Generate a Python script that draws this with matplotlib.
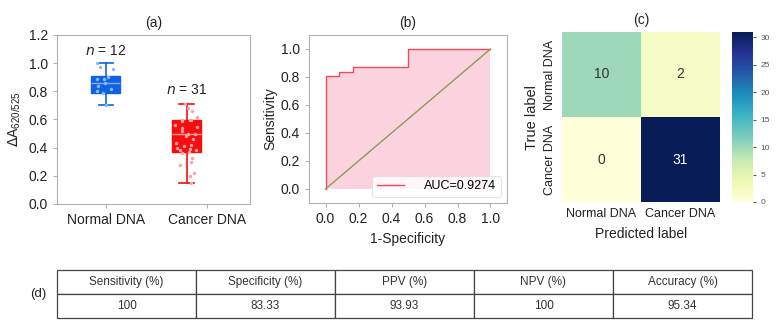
import numpy as np
import matplotlib
matplotlib.use("Agg")
import matplotlib.pyplot as plt
from matplotlib.colors import Normalize

plt.rcParams['font.family'] = ['Liberation Sans', 'DejaVu Sans']

# ---------------- data ----------------
groups = ["Normal DNA", "Cancer DNA"]
normal_vals = [1.00, 0.97, 0.96, 0.90, 0.89, 0.89, 0.86, 0.84, 0.82, 0.80, 0.79, 0.70]
cancer_vals = [0.71, 0.68, 0.66, 0.62, 0.60, 0.60, 0.60, 0.59, 0.56, 0.55, 0.54, 0.52,
               0.50, 0.50, 0.48, 0.46, 0.43, 0.42, 0.41, 0.40, 0.39, 0.38, 0.38, 0.37,
               0.36, 0.33, 0.30, 0.28, 0.22, 0.20, 0.15]
box_q1 = [0.79, 0.37]
box_med = [0.86, 0.50]
box_q3 = [0.91, 0.60]
box_lo = [0.70, 0.15]
box_hi = [1.00, 0.71]
n_labels = ["n = 12", "n = 31"]

roc_fpr = [0.0, 0.0, 1/12, 1/12, 2/12, 2/12, 0.5, 0.5, 1.0]
roc_tpr = [0.0, 25/31, 25/31, 26/31, 26/31, 27/31, 27/31, 1.0, 1.0]
auc_label = "AUC=0.9274"

cm = np.array([[10, 2], [0, 31]])
cm_labels = ["Normal DNA", "Cancer DNA"]

table_header = ["Sensitivity (%)", "Specificity (%)", "PPV (%)", "NPV (%)", "Accuracy (%)"]
table_values = ["100", "83.33", "93.93", "100", "95.34"]

# ---------------- figure ----------------
W, H = 776, 336
fig = plt.figure(figsize=(W/100, H/100), dpi=100)

def rect(x0, y0, x1, y1):
    return [x0/W, 1 - y1/H, (x1-x0)/W, (y1-y0)/H]

frame_col = "#b0b0b0"
txt = "#222222"

# ---- (a) ----
axa = fig.add_axes(rect(57, 35, 250, 204))
positions = [1.0, 1.8]
colors = ["#0f62e6", "#f70d0d"]
pt_colors = ["#8fb8f5", "#f7a3a8"]
med_colors = ["#7fb0f5", "#f9a0a8"]
stats = []
for i in range(2):
    stats.append(dict(q1=box_q1[i], med=box_med[i], q3=box_q3[i],
                      whislo=box_lo[i], whishi=box_hi[i], fliers=[]))
for i in range(2):
    axa.bxp([stats[i]], positions=[positions[i]], widths=0.29, patch_artist=True,
            showfliers=False,
            boxprops=dict(facecolor=colors[i], edgecolor=colors[i], linewidth=1),
            whiskerprops=dict(color=colors[i], linewidth=1.2),
            capprops=dict(color=colors[i], linewidth=1.2),
            medianprops=dict(color=med_colors[i], linewidth=1))
rng = np.random.default_rng(3)
for i, vals in enumerate([normal_vals, cancer_vals]):
    jit = rng.uniform(-0.11, 0.11, len(vals))
    axa.scatter(positions[i] + jit, vals, s=6, color=pt_colors[i], zorder=5, linewidths=0)
for i in range(2):
    y = box_hi[i] + 0.085 + 0.015 * i
    axa.text(positions[i], y, n_labels[i].replace("n", "$n$"), ha="center", va="center",
             fontsize=10, color=txt)
axa.set_xlim(0.515, 2.43)
axa.set_ylim(0, 1.2)
axa.set_xticks([1, 2])
axa.set_xticklabels(groups)
axa.set_yticks(np.arange(0, 1.21, 0.2))
axa.set_yticklabels([f"{v:.1f}" for v in np.arange(0, 1.21, 0.2)])
axa.set_ylabel(r"$\Delta$A$_{\mathregular{620/525}}$", fontsize=10, color=txt, labelpad=4)
axa.set_title("(a)", fontsize=10, color=txt, pad=6)

# ---- (b) ----
axb = fig.add_axes(rect(309, 35, 507, 203))
axb.fill_between(roc_fpr, roc_tpr, 0, color="#fbd3df", linewidth=0)
axb.plot(roc_fpr, roc_tpr, color="#ee4a55", linewidth=1, label=auc_label)
axb.plot([0, 1], [0, 1], color="#8f9a55", linewidth=1)
axb.set_xlim(-0.1, 1.1)
axb.set_ylim(-0.1, 1.1)
axb.set_xticks(np.arange(0, 1.01, 0.2))
axb.set_yticks(np.arange(0, 1.01, 0.2))
axb.set_xlabel("1-Specificity", fontsize=10, color=txt, labelpad=4)
axb.set_ylabel("Sensitivity", fontsize=10, color=txt, labelpad=2)
axb.set_title("(b)", fontsize=10, color=txt, pad=6)
leg = axb.legend(loc="lower right", fontsize=9, frameon=True, handlelength=2.2,
                 borderpad=0.35, handletextpad=1.6)
leg.get_frame().set_edgecolor("#dddddd")
leg.get_frame().set_linewidth(0.8)

for ax in (axa, axb):
    for s in ax.spines.values():
        s.set_color(frame_col)
    ax.tick_params(colors=frame_col, labelcolor=txt, labelsize=10, length=3)

# ---- (c) ----
axc = fig.add_axes(rect(562, 32, 720, 202))
cax = fig.add_axes(rect(732, 32, 753, 202))
norm = Normalize(vmin=0, vmax=cm.max())
im = axc.imshow(cm, cmap="YlGnBu", norm=norm, aspect="auto",
                extent=(0, 2, 2, 0))
for r in range(2):
    for c in range(2):
        v = cm[r, c]
        col = "white" if v > cm.max() / 2 else "#333333"
        axc.text(c + 0.5, r + 0.5, str(v), ha="center", va="center", fontsize=10, color=col)
axc.set_xticks([0.5, 1.5])
axc.set_xticklabels(cm_labels)
axc.set_yticks([0.5, 1.5])
axc.set_yticklabels(cm_labels, rotation=90, va="center")
axc.tick_params(length=0, labelsize=9, labelcolor=txt, pad=4)
for s in axc.spines.values():
    s.set_visible(False)
axc.set_xlabel("Predicted label", fontsize=10, color=txt, labelpad=5)
axc.set_ylabel("True label", fontsize=10.5, color=txt, labelpad=4)
axc.set_title("(c)", fontsize=10, color=txt, pad=6)
cb = fig.colorbar(im, cax=cax)
cb.set_ticks(np.arange(0, 31, 5))
cb.ax.tick_params(labelsize=6, length=2, colors="#555555")
cb.outline.set_visible(False)

# ---- (d) table ----
axd = fig.add_axes(rect(57, 270, 752, 318))
axd.axis("off")
tbl = axd.table(cellText=[table_header, table_values], cellLoc="center",
                bbox=[0, 0, 1, 1])
tbl.auto_set_font_size(False)
for (r, c), cell in tbl.get_celld().items():
    cell.set_edgecolor("#444444")
    cell.set_linewidth(0.9)
    cell.get_text().set_fontsize(8.5)
    cell.get_text().set_color("#333333")
fig.text(38/W, 1 - 294/H, "(d)", ha="center", va="center", fontsize=9.5, color=txt)

fig.savefig("out.png", dpi=100)
